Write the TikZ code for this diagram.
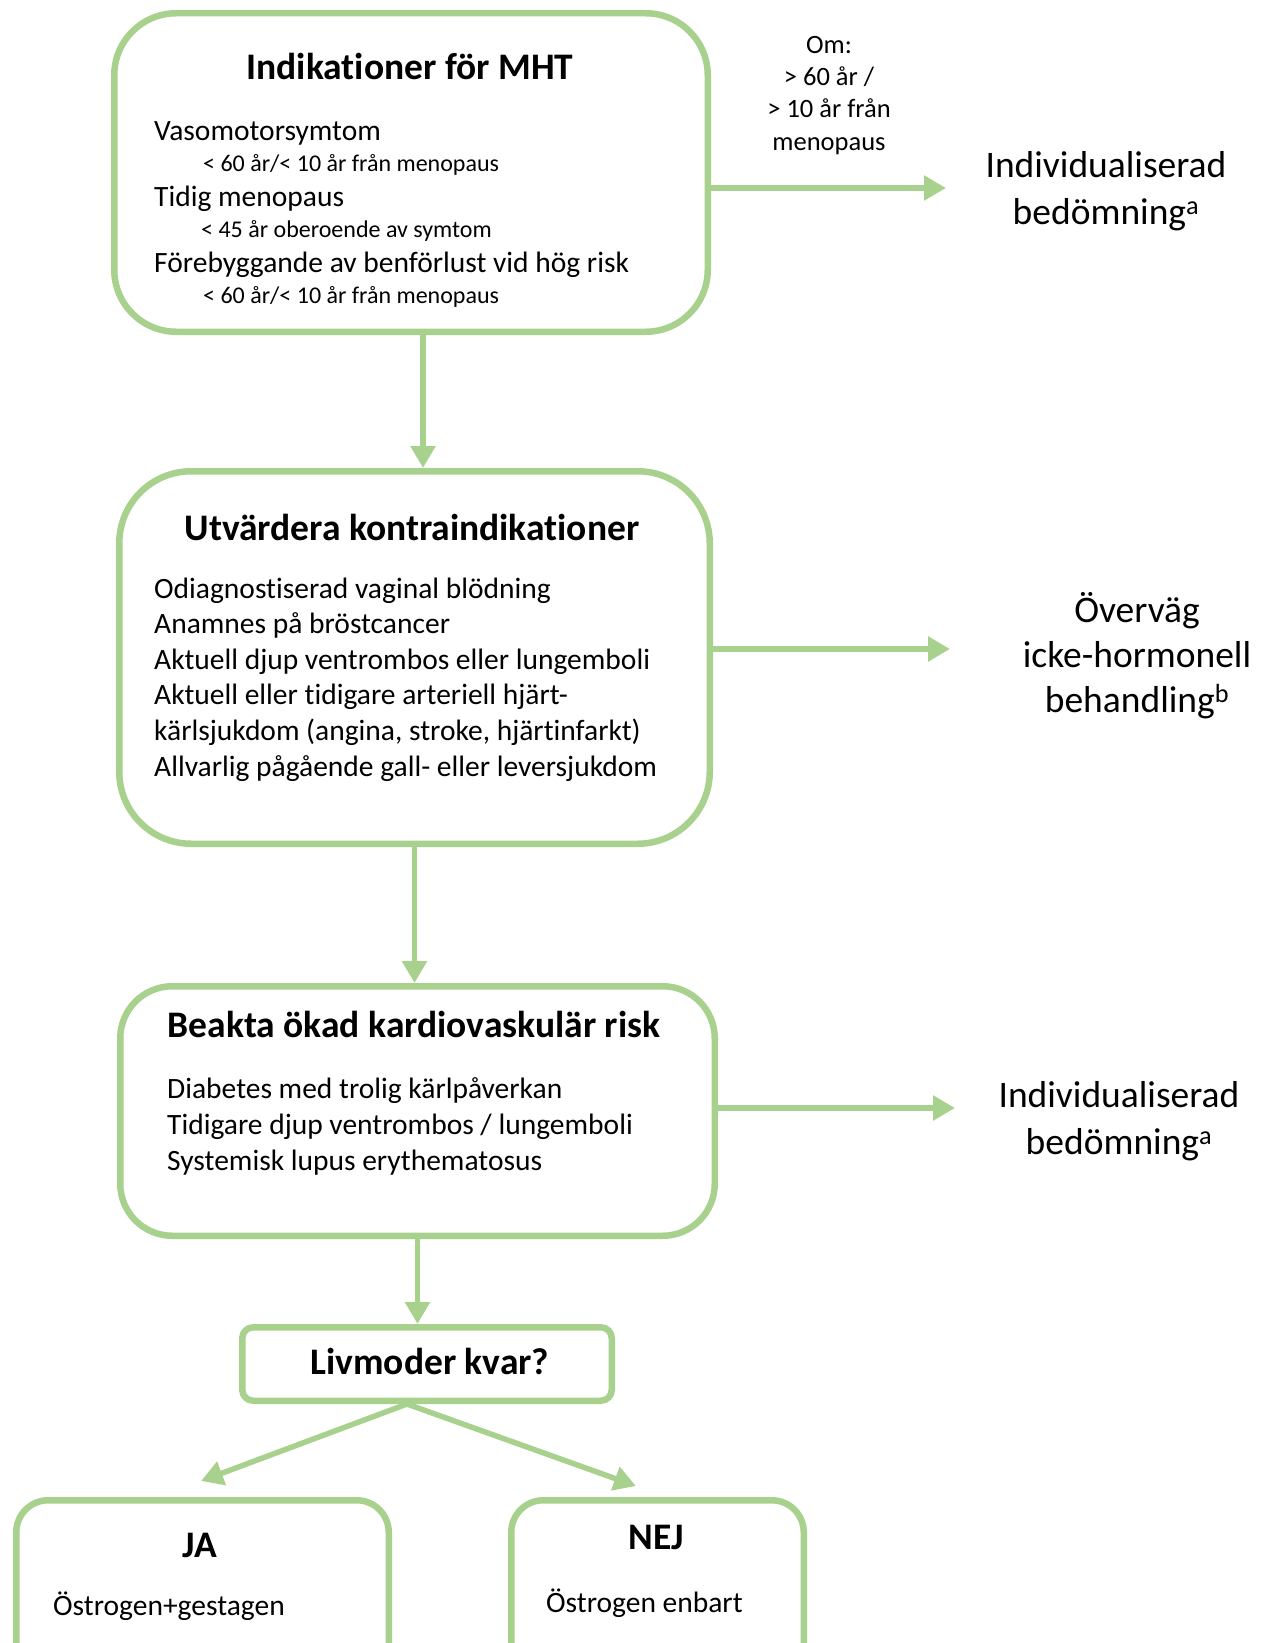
\documentclass[tikz,border=0pt]{standalone}
\usepackage{fontspec}
\setmainfont{Carlito}[Ligatures=NoCommon]
\usetikzlibrary{arrows.meta}
\definecolor{grn}{HTML}{A9D18E}
\newcommand{\fs}[2]{\fontsize{#1}{#2}\selectfont}
\begin{document}
\begin{tikzpicture}[x=1pt,y=-1pt,
  boxst/.style={draw=grn, line width=6.5pt, inner sep=0pt, outer sep=3.25pt},
  arr/.style={draw=grn, line width=5.5pt, -{Triangle[length=22pt,width=24pt]}},
  ttl/.style={font=\bfseries\fs{37.5}{44}, anchor=base, inner sep=0pt},
  body/.style={font=\fs{29.5}{35.6}, anchor=base west, align=left, inner sep=0pt},
  sub/.style={font=\fs{24}{28}, anchor=base west, inner sep=0pt},
  side/.style={font=\fs{37.5}{47}, anchor=base, align=center, inner sep=0pt},
]
\useasboundingbox (0,0) rectangle (1266,1643);
% boxes
\node[boxst, rounded corners=62pt, minimum width=593.5pt, minimum height=318.5pt] (b1) at (411,172.5) {};
\node[boxst, rounded corners=72pt, minimum width=590.5pt, minimum height=372.5pt] (b2) at (414.5,657.5) {};
\node[boxst, rounded corners=52pt, minimum width=594.5pt, minimum height=249.5pt] (b3) at (417.5,1111) {};
\node[boxst, rounded corners=11pt, minimum width=369.5pt, minimum height=73.5pt] (b4) at (427,1364) {};
\node[boxst, rounded corners=32pt, minimum width=372.5pt, minimum height=240pt, anchor=north] (b5) at (202.5,1497) {};
\node[boxst, rounded corners=32pt, minimum width=292.5pt, minimum height=240pt, anchor=north] (b6) at (657.5,1497) {};
% box 1 text
\node[ttl] (t1) at (410,80) {Indikationer för MHT};
\node[body] (l11) at (154,140) {Vasomotorsymtom};
\node[sub] (l12) at (203,171) {< 60 år/< 10 år från menopaus};
\node[body] (l13) at (154,206) {Tidig menopaus};
\node[sub] (l14) at (201,237) {< 45 år oberoende av symtom};
\node[body] (l15) at (154,272) {Förebyggande av benförlust vid hög risk};
\node[sub] (l16) at (203,303) {< 60 år/< 10 år från menopaus};
% box 2 text (base anchor = last line)
\node[ttl] (t2) at (412,540) {Utvärdera kontraindikationer};
\node[body] (l2) at (154,776) {Odiagnostiserad vaginal blödning\\Anamnes på bröstcancer\\Aktuell djup ventrombos eller lungemboli\\Aktuell eller tidigare arteriell hjärt-\\kärlsjukdom (angina, stroke, hjärtinfarkt)\\Allvarlig pågående gall- eller leversjukdom};
% box 3 text
\node[ttl] (t3) at (414,1037) {Beakta ökad kardiovaskulär risk};
\node[body] (l3) at (167,1170) {Diabetes med trolig kärlpåverkan\\Tidigare djup ventrombos / lungemboli\\Systemisk lupus erythematosus};
% box 4..6 text
\node[ttl] (t4) at (430,1374) {Livmoder kvar?};
\node[ttl] (t5) at (200,1557) {JA};
\node[body] (l5) at (53,1615) {Östrogen+gestagen};
\node[ttl] (t6) at (656,1549) {NEJ};
\node[body] (l6) at (546,1612) {Östrogen enbart};
% side texts
\node[font=\fs{26.5}{32.5}, anchor=base, align=center, inner sep=0pt] (om) at (829,150.5) {Om:\\> 60 år /\\> 10 år från\\menopaus};
\node[side] (r1) at (1106,224) {Individualiserad\\bedömning\textsuperscript{a}};
\node[side, font=\fs{37.5}{45}] (r2) at (1137,712) {Överväg\\icke-hormonell\\behandling\textsuperscript{b}};
\node[side] (r3) at (1119,1154) {Individualiserad\\bedömning\textsuperscript{a}};
% connectors
\coordinate (e1) at (946,188);
\coordinate (e2) at (950,649);
\coordinate (e3) at (955,1108);
\coordinate (s4) at (407,1404);
\coordinate (ja) at (201,1481);
\coordinate (nej) at (636,1486);
\draw[arr] ([xshift=12pt]b1.south) -- ([xshift=12pt]b1.south |- b2.north);
\draw[arr] (b2.south) -- (b2.south |- b3.north);
\draw[arr] (b3.south) -- (b3.south |- b4.north);
\draw[arr] (b1.east |- e1) -- (e1);
\draw[arr] (b2.east |- e2) -- (e2);
\draw[arr] (b3.east |- e3) -- (e3);
\draw[arr] (s4) -- (ja);
\draw[arr] (s4) -- (nej);
\end{tikzpicture}
\end{document}
